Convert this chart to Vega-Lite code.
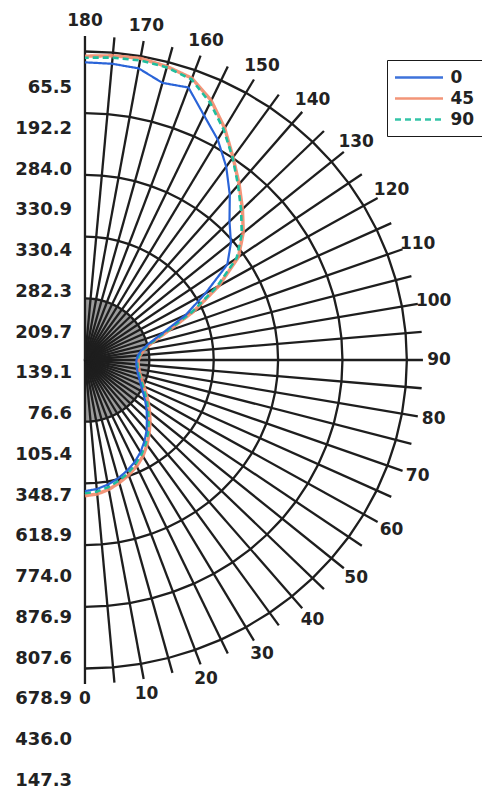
{
  "$schema": "https://vega.github.io/schema/vega-lite/v6.json",
  "width": 482,
  "height": 795,
  "autosize": "none",
  "padding": 0,
  "background": "white",
  "datasets": {
    "curves": [
      {"a": 0, "0": 425, "45": 440, "90": 432},
      {"a": 5, "0": 420, "45": 436, "90": 428},
      {"a": 10, "0": 410, "45": 426, "90": 418},
      {"a": 15, "0": 397, "45": 412, "90": 405},
      {"a": 20, "0": 382, "45": 397, "90": 390},
      {"a": 25, "0": 365, "45": 380, "90": 372},
      {"a": 30, "0": 345, "45": 360, "90": 352},
      {"a": 35, "0": 322, "45": 336, "90": 330},
      {"a": 40, "0": 298, "45": 310, "90": 305},
      {"a": 45, "0": 272, "45": 286, "90": 280},
      {"a": 50, "0": 250, "45": 262, "90": 256},
      {"a": 55, "0": 228, "45": 240, "90": 235},
      {"a": 60, "0": 208, "45": 220, "90": 215},
      {"a": 65, "0": 192, "45": 202, "90": 198},
      {"a": 70, "0": 180, "45": 188, "90": 184},
      {"a": 75, "0": 170, "45": 177, "90": 174},
      {"a": 80, "0": 164, "45": 170, "90": 167},
      {"a": 85, "0": 160, "45": 166, "90": 163},
      {"a": 90, "0": 160, "45": 166, "90": 163},
      {"a": 95, "0": 165, "45": 172, "90": 169},
      {"a": 100, "0": 178, "45": 185, "90": 182},
      {"a": 105, "0": 205, "45": 215, "90": 210},
      {"a": 110, "0": 258, "45": 275, "90": 268},
      {"a": 115, "0": 345, "45": 372, "90": 365},
      {"a": 120, "0": 432, "45": 480, "90": 472},
      {"a": 125, "0": 540, "45": 582, "90": 575},
      {"a": 130, "0": 592, "45": 642, "90": 636},
      {"a": 135, "0": 635, "45": 692, "90": 686},
      {"a": 140, "0": 700, "45": 745, "90": 740},
      {"a": 145, "0": 765, "45": 802, "90": 800},
      {"a": 150, "0": 825, "45": 868, "90": 862},
      {"a": 155, "0": 875, "45": 928, "90": 920},
      {"a": 160, "0": 940, "45": 972, "90": 968},
      {"a": 165, "0": 930, "45": 985, "90": 982},
      {"a": 170, "0": 960, "45": 993, "90": 986},
      {"a": 175, "0": 964, "45": 990, "90": 984},
      {"a": 180, "0": 965, "45": 985, "90": 980}
    ],
    "grid": [
      {"ring": 0, "a": [0,5,10,15,20,25,30,35,40,45,50,55,60,65,70,75,80,85,90,95,100,105,110,115,120,125,130,135,140,145,150,155,160,165,170,175,180]},
      {"ring": 200, "a": [0,5,10,15,20,25,30,35,40,45,50,55,60,65,70,75,80,85,90,95,100,105,110,115,120,125,130,135,140,145,150,155,160,165,170,175,180]},
      {"ring": 400, "a": [0,5,10,15,20,25,30,35,40,45,50,55,60,65,70,75,80,85,90,95,100,105,110,115,120,125,130,135,140,145,150,155,160,165,170,175,180]},
      {"ring": 600, "a": [0,5,10,15,20,25,30,35,40,45,50,55,60,65,70,75,80,85,90,95,100,105,110,115,120,125,130,135,140,145,150,155,160,165,170,175,180]},
      {"ring": 800, "a": [0,5,10,15,20,25,30,35,40,45,50,55,60,65,70,75,80,85,90,95,100,105,110,115,120,125,130,135,140,145,150,155,160,165,170,175,180]},
      {"ring": 1000, "a": [0,5,10,15,20,25,30,35,40,45,50,55,60,65,70,75,80,85,90,95,100,105,110,115,120,125,130,135,140,145,150,155,160,165,170,175,180]},
      {"ring": 1050, "a": [0,5,10,15,20,25,30,35,40,45,50,55,60,65,70,75,80,85,90,95,100,105,110,115,120,125,130,135,140,145,150,155,160,165,170,175,180]}
    ],
    "vals": [
      {"i": 0, "label": "65.5"},
      {"i": 1, "label": "192.2"},
      {"i": 2, "label": "284.0"},
      {"i": 3, "label": "330.9"},
      {"i": 4, "label": "330.4"},
      {"i": 5, "label": "282.3"},
      {"i": 6, "label": "209.7"},
      {"i": 7, "label": "139.1"},
      {"i": 8, "label": "76.6"},
      {"i": 9, "label": "105.4"},
      {"i": 10, "label": "348.7"},
      {"i": 11, "label": "618.9"},
      {"i": 12, "label": "774.0"},
      {"i": 13, "label": "876.9"},
      {"i": 14, "label": "807.6"},
      {"i": 15, "label": "678.9"},
      {"i": 16, "label": "436.0"},
      {"i": 17, "label": "147.3"}
    ]
  },
  "config": {
    "view": {"stroke": null},
    "legend": {
      "orient": "none",
      "legendX": 387,
      "legendY": 60,
      "symbolType": "M-3,0H3",
      "symbolSize": 256,
      "symbolOffset": 14.5,
      "symbolStrokeWidth": 2.5,
      "labelFont": "DejaVu Sans",
      "labelFontSize": 17,
      "labelFontWeight": "bold",
      "labelColor": "#222222",
      "labelOffset": 22,
      "strokeColor": "#1a1a1a",
      "padding": 8,
      "rowPadding": 3
    }
  },
  "resolve": {"scale": {"y": "independent"}},
  "layer": [
    {
      "layer": [
        {
          "data": {"name": "grid"},
          "transform": [
            {"filter": "datum.ring == 200"},
            {"flatten": ["a"]},
            {"calculate": "datum.ring*sin(datum.a*PI/180)", "as": "px"},
            {"calculate": "-datum.ring*cos(datum.a*PI/180)", "as": "py"}
          ],
          "mark": {"type": "line", "fill": "#3a3a3a", "fillOpacity": 0.5, "strokeWidth": 0},
          "encoding": {
            "x": {"field": "px", "type": "quantitative", "scale": {"domain": [-264, 1233.5], "zero": false, "nice": false}, "axis": null},
            "y": {"field": "py", "type": "quantitative", "scale": {"domain": [-1410, 1167], "zero": false, "nice": false}, "axis": null},
            "order": {"field": "a", "type": "quantitative"}
          }
        },
        {
          "data": {"name": "grid"},
          "transform": [
            {"filter": "datum.ring > 0 && datum.ring <= 1000"},
            {"flatten": ["a"]},
            {"calculate": "datum.ring*sin(datum.a*PI/180)", "as": "px"},
            {"calculate": "-datum.ring*cos(datum.a*PI/180)", "as": "py"}
          ],
          "mark": {"type": "line", "color": "#1e1e1e", "strokeWidth": 2.3},
          "encoding": {
            "x": {"field": "px", "type": "quantitative", "scale": {"domain": [-264, 1233.5], "zero": false, "nice": false}, "axis": null},
            "y": {"field": "py", "type": "quantitative", "scale": {"domain": [-1410, 1167], "zero": false, "nice": false}, "axis": null},
            "detail": {"field": "ring", "type": "nominal"},
            "order": {"field": "a", "type": "quantitative"}
          }
        },
        {
          "data": {"name": "grid"},
          "transform": [
            {"filter": "datum.ring == 0 || datum.ring == 1050"},
            {"flatten": ["a"]},
            {"calculate": "datum.ring*sin(datum.a*PI/180)", "as": "px"},
            {"calculate": "-datum.ring*cos(datum.a*PI/180)", "as": "py"}
          ],
          "mark": {"type": "line", "color": "#1e1e1e", "strokeWidth": 2.3},
          "encoding": {
            "x": {"field": "px", "type": "quantitative", "scale": {"domain": [-264, 1233.5], "zero": false, "nice": false}, "axis": null},
            "y": {"field": "py", "type": "quantitative", "scale": {"domain": [-1410, 1167], "zero": false, "nice": false}, "axis": null},
            "detail": {"field": "a", "type": "nominal"},
            "order": {"field": "ring", "type": "quantitative"}
          }
        },
        {
          "data": {"name": "curves"},
          "transform": [
            {"fold": ["0", "45", "90"], "as": ["s", "v"]},
            {"filter": "datum.s == '45'"},
            {"calculate": "datum.v*sin(datum.a*PI/180)", "as": "px"},
            {"calculate": "-datum.v*cos(datum.a*PI/180)", "as": "py"}
          ],
          "mark": {"type": "line", "strokeWidth": 3.4, "opacity": 0.9},
          "encoding": {
            "x": {"field": "px", "type": "quantitative", "scale": {"domain": [-264, 1233.5], "zero": false, "nice": false}, "axis": null},
            "y": {"field": "py", "type": "quantitative", "scale": {"domain": [-1410, 1167], "zero": false, "nice": false}, "axis": null},
            "order": {"field": "a", "type": "quantitative"},
            "color": {"field": "s", "type": "nominal", "title": null, "scale": {"domain": ["0", "45", "90"], "range": ["#2a64d8", "#f28a6a", "#1fbf9e"]}},
            "strokeDash": {"field": "s", "type": "nominal", "title": null, "scale": {"domain": ["0", "45", "90"], "range": [[1, 0], [1, 0], [6, 4]]}}
          }
        },
        {
          "data": {"name": "curves"},
          "transform": [
            {"fold": ["0", "45", "90"], "as": ["s", "v"]},
            {"filter": "datum.s == '90'"},
            {"calculate": "datum.v*sin(datum.a*PI/180)", "as": "px"},
            {"calculate": "-datum.v*cos(datum.a*PI/180)", "as": "py"}
          ],
          "mark": {"type": "line", "strokeWidth": 2.6},
          "encoding": {
            "x": {"field": "px", "type": "quantitative", "scale": {"domain": [-264, 1233.5], "zero": false, "nice": false}, "axis": null},
            "y": {"field": "py", "type": "quantitative", "scale": {"domain": [-1410, 1167], "zero": false, "nice": false}, "axis": null},
            "order": {"field": "a", "type": "quantitative"},
            "color": {"field": "s", "type": "nominal", "title": null, "scale": {"domain": ["0", "45", "90"], "range": ["#2a64d8", "#f28a6a", "#1fbf9e"]}},
            "strokeDash": {"field": "s", "type": "nominal", "title": null, "scale": {"domain": ["0", "45", "90"], "range": [[1, 0], [1, 0], [6, 4]]}}
          }
        },
        {
          "data": {"name": "curves"},
          "transform": [
            {"fold": ["0", "45", "90"], "as": ["s", "v"]},
            {"filter": "datum.s == '0'"},
            {"calculate": "datum.v*sin(datum.a*PI/180)", "as": "px"},
            {"calculate": "-datum.v*cos(datum.a*PI/180)", "as": "py"}
          ],
          "mark": {"type": "line", "strokeWidth": 2.2},
          "encoding": {
            "x": {"field": "px", "type": "quantitative", "scale": {"domain": [-264, 1233.5], "zero": false, "nice": false}, "axis": null},
            "y": {"field": "py", "type": "quantitative", "scale": {"domain": [-1410, 1167], "zero": false, "nice": false}, "axis": null},
            "order": {"field": "a", "type": "quantitative"},
            "color": {"field": "s", "type": "nominal", "title": null, "scale": {"domain": ["0", "45", "90"], "range": ["#2a64d8", "#f28a6a", "#1fbf9e"]}},
            "strokeDash": {"field": "s", "type": "nominal", "title": null, "scale": {"domain": ["0", "45", "90"], "range": [[1, 0], [1, 0], [6, 4]]}}
          }
        },
        {
          "data": {"name": "curves"},
          "transform": [
            {"filter": "datum.a % 10 == 0"},
            {"calculate": "1100*sin(datum.a*PI/180)", "as": "lx"},
            {"calculate": "-1100*cos(datum.a*PI/180)", "as": "ly"}
          ],
          "mark": {"type": "text", "font": "DejaVu Sans", "fontSize": 17, "fontWeight": "bold", "color": "#222222", "align": "center", "baseline": "middle"},
          "encoding": {
            "x": {"field": "lx", "type": "quantitative", "scale": {"domain": [-264, 1233.5], "zero": false, "nice": false}, "axis": null},
            "y": {"field": "ly", "type": "quantitative", "scale": {"domain": [-1410, 1167], "zero": false, "nice": false}, "axis": null},
            "text": {"field": "a", "type": "quantitative"}
          }
        }
      ]
    },
    {
      "data": {"name": "vals"},
      "mark": {"type": "text", "font": "DejaVu Sans", "fontSize": 18, "fontWeight": "bold", "color": "#222222", "align": "right", "baseline": "middle"},
      "encoding": {
        "x": {"datum": -40, "type": "quantitative", "scale": {"domain": [-264, 1233.5], "zero": false, "nice": false}, "axis": null},
        "y": {"field": "i", "type": "quantitative", "scale": {"domain": [0, 17], "range": [88, 781], "zero": false, "nice": false}, "axis": null},
        "text": {"field": "label", "type": "nominal"}
      }
    }
  ]
}
